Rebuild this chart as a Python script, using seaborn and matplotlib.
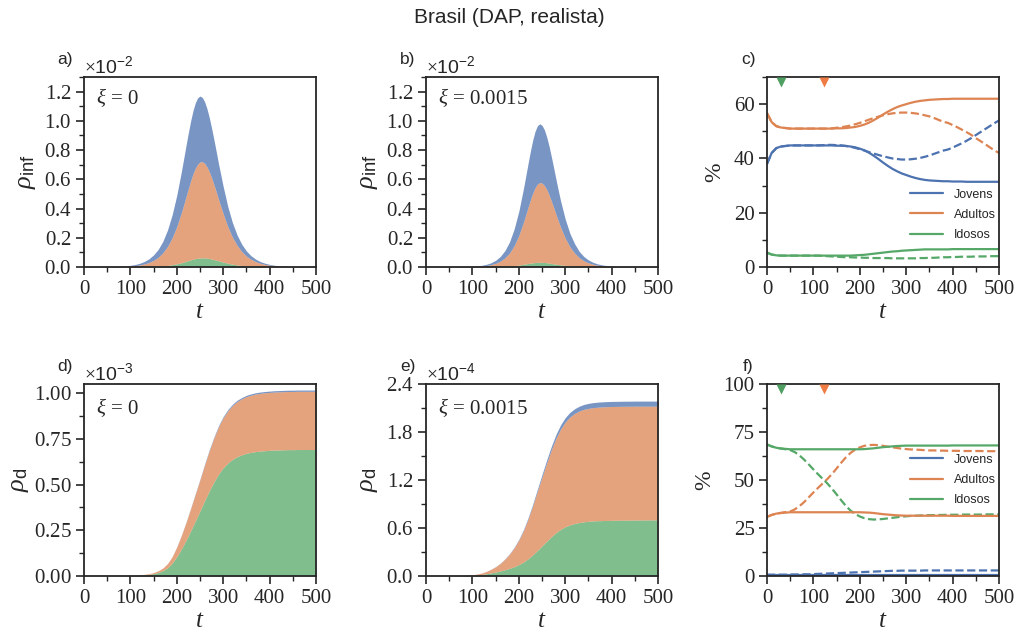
import matplotlib
matplotlib.use("Agg")
import matplotlib.pyplot as plt
import matplotlib.transforms as mtransforms
from matplotlib.ticker import MultipleLocator, ScalarFormatter
import seaborn as sns

# ---------------------------------------------------------------- data
t = list(range(0, 501, 10))
# denser sampling around the epidemic peak for the infected panels
t_inf = sorted(set(t) | set(range(215, 290, 10)))
groups = ["Jovens", "Adultos", "Idosos"]

# infected density per age group (units of 1e-2), xi = 0
inf0_jovens = [.0001, .0001, .0002, .0004, .0005, .0007, .0010, .0016, .0023, .0035,
               .0051, .0076, .0114, .0170, .0250, .0372, .0542, .0785, .1124, .1574,
               .2141, .2812, .3165, .3506, .3827, .4105, .4326, .4474, .4540, .4505,
               .4397, .4219, .3984, .3703, .3400, .3078, .2757, .2435,
               .1868, .1375, .0994, .0710, .0501, .0350, .0244, .0170, .0117, .0082,
               .0056, .0038, .0028, .0019, .0012, .0009, .0007, .0004, .0002, .0002, .0002]
inf0_adultos = [.0001, .0002, .0003, .0004, .0006, .0008, .0012, .0018, .0027, .0039,
                .0059, .0087, .0130, .0194, .0286, .0423, .0617, .0901, .1300, .1842,
                .2553, .3434, .3923, .4432, .4931, .5415, .5848, .6193, .6438, .6575,
                .6577, .6469, .6249, .5944, .5563, .5136, .4677, .4201,
                .3306, .2499, .1845, .1340, .0958, .0678, .0476, .0334, .0229, .0161,
                .0112, .0074, .0056, .0037, .0025, .0019, .0012, .0008, .0006, .0004, .0002]
inf0_idosos = [.0000, .0000, .0000, .0000, .0000, .0001, .0001, .0001, .0002, .0003,
               .0005, .0007, .0011, .0016, .0024, .0035, .0051, .0074, .0106, .0154,
               .0216, .0294, .0342, .0392, .0442, .0490, .0536, .0573, .0602, .0620,
               .0626, .0622, .0607, .0583, .0547, .0506, .0466, .0424,
               .0336, .0256, .0191, .0140, .0101, .0072, .0050, .0036, .0024, .0017,
               .0012, .0008, .0006, .0004, .0003, .0002, .0001, .0001, .0001, .0000, .0000]

# infected density per age group (units of 1e-2), xi = 0.0015
inf1_jovens = [.0000, .0000, .0000, .0001, .0001, .0002, .0003, .0005, .0008, .0013,
               .0021, .0033, .0052, .0084, .0131, .0207, .0324, .0502, .0764, .1150,
               .1658, .2308, .2658, .3007, .3343, .3637, .3860, .3994, .4023, .3953,
               .3812, .3595, .3337, .3035, .2723, .2400, .2093, .1803,
               .1304, .0920, .0643, .0433, .0294, .0198, .0134, .0089, .0060, .0041,
               .0028, .0018, .0013, .0008, .0006, .0004, .0003, .0002, .0001, .0001, .0001]
inf1_adultos = [.0001, .0001, .0001, .0001, .0002, .0003, .0004, .0006, .0009, .0015,
                .0023, .0037, .0059, .0094, .0149, .0236, .0373, .0583, .0899, .1378,
                .2028, .2889, .3370, .3861, .4341, .4776, .5123, .5357, .5454, .5417,
                .5268, .5011, .4674, .4273, .3850, .3408, .2979, .2572,
                .1861, .1306, .0906, .0602, .0402, .0266, .0175, .0114, .0075, .0049,
                .0032, .0021, .0013, .0009, .0006, .0004, .0002, .0001, .0001, .0000, .0000]
inf1_idosos = [.0000, .0000, .0000, .0000, .0000, .0000, .0000, .0001, .0001, .0001,
               .0002, .0003, .0005, .0007, .0011, .0018, .0027, .0041, .0062, .0092,
               .0134, .0183, .0212, .0242, .0266, .0287, .0307, .0319, .0323, .0320,
               .0310, .0294, .0269, .0242, .0217, .0192, .0168, .0145,
               .0105, .0074, .0051, .0035, .0024, .0016, .0011, .0007, .0005, .0003,
               .0002, .0002, .0001, .0001, .0000, .0000, .0000, .0000, .0000, .0000, .0000]

# cumulative deaths per age group (units of 1e-3), xi = 0
dead0_jovens = [0, 0, 0, 0, 0, 0, 0, 0, 0, .0000,
                .0000, .0000, .0000, .0001, .0001, .0001, .0002, .0003, .0005, .0007,
                .0011, .0016, .0021, .0026, .0032, .0037, .0043, .0048, .0053, .0058,
                .0061, .0064, .0066, .0067, .0068, .0069, .0070, .0070, .0070, .0071,
                .0071, .0071, .0071, .0071, .0071, .0071, .0071, .0071, .0071, .0071, .0071]
dead0_adultos = [0, 0, 0, 0, 0, 0, 0, 0, 0, .0003,
                 .0007, .0013, .0020, .0030, .0043, .0063, .0096, .0146, .0226, .0352,
                 .0531, .0741, .0974, .1220, .1466, .1707, .1958, .2194, .2402, .2589,
                 .2738, .2857, .2948, .3018, .3065, .3102, .3127, .3146, .3159, .3168,
                 .3164, .3171, .3174, .3177, .3180, .3180, .3183, .3183, .3183, .3183, .3183]
dead0_idosos = [0, 0, 0, 0, 0, 0, 0, 0, 0, .0007,
                .0013, .0026, .0040, .0059, .0086, .0125, .0191, .0290, .0449, .0700,
                .1056, .1481, .1956, .2474, .3013, .3556, .4119, .4658, .5145, .5573,
                .5921, .6179, .6376, .6525, .6627, .6709, .6763, .6804, .6831, .6851,
                .6875, .6888, .6895, .6902, .6909, .6909, .6916, .6916, .6916, .6916, .6916]

# cumulative deaths per age group (units of 1e-4), xi = 0.0015
dead1_jovens = [0, 0, 0, 0, 0, 0, .0000, .0000, .0000, .0001,
                .0002, .0003, .0005, .0008, .0012, .0018, .0026, .0037, .0050, .0068,
                .0092, .0122, .0161, .0207, .0260, .0318, .0377, .0437, .0478, .0529,
                .0554, .0573, .0585, .0594, .0610, .0626, .0628, .0630, .0631, .0632,
                .0633, .0633, .0633, .0634, .0634, .0634, .0634, .0634, .0634, .0634, .0634]
dead1_adultos = [0, 0, 0, 0, 0, 0, .0004, .0007, .0020, .0037,
                 .0069, .0114, .0183, .0292, .0451, .0660, .0944, .1328, .1795, .2369,
                 .3082, .3932, .4978, .6147, .7389, .8610, .9773, 1.0854, 1.1806, 1.2531,
                 1.3088, 1.3486, 1.3752, 1.3942, 1.4055, 1.4113, 1.4162, 1.4190, 1.4210, 1.4223,
                 1.4226, 1.4229, 1.4231, 1.4233, 1.4228, 1.4231, 1.4226, 1.4222, 1.4218, 1.4213, 1.4209]
dead1_idosos = [0, 0, 0, 0, 0, 0, .0006, .0013, .0030, .0052,
                .0089, .0133, .0192, .0280, .0387, .0502, .0630, .0785, .0955, .1163,
                .1426, .1746, .2161, .2646, .3201, .3772, .4350, .4909, .5416, .5840,
                .6158, .6391, .6563, .6684, .6775, .6841, .6880, .6910, .6929, .6945,
                .6961, .6968, .6976, .6983, .6988, .6995, .7000, .7004, .7008, .7013, .7017]

# share of infected per age group (%), solid: xi = 0, dashed: xi = 0.0015
pinf0_jovens = [38.0, 42.0, 43.8, 44.4, 44.6, 44.8, 44.8, 44.8, 44.8, 44.8,
                44.8, 44.8, 44.8, 44.8, 44.8, 44.7, 44.7, 44.6, 44.4, 44.1,
                43.6, 43.0, 42.1, 41.0, 39.8, 38.5, 37.3, 36.2, 35.3, 34.5,
                33.9, 33.3, 32.8, 32.4, 32.1, 31.9, 31.8, 31.7, 31.6, 31.6,
                31.5, 31.5, 31.5, 31.4, 31.4, 31.4, 31.4, 31.4, 31.4, 31.4, 31.4]
pinf0_adultos = [56.7, 53.4, 51.9, 51.4, 51.2, 51.0, 51.0, 51.0, 51.0, 51.0,
                 51.0, 51.0, 51.0, 51.0, 51.0, 51.1, 51.1, 51.2, 51.4, 51.6,
                 52.0, 52.5, 53.2, 54.1, 55.1, 56.2, 57.2, 58.1, 58.9, 59.5,
                 60.0, 60.5, 60.9, 61.2, 61.4, 61.6, 61.7, 61.8, 61.9, 61.9,
                 62.0, 62.0, 62.0, 62.0, 62.0, 62.0, 62.0, 62.0, 62.0, 62.0, 62.0]
pinf0_idosos = [5.3, 4.6, 4.3, 4.2, 4.2, 4.2, 4.2, 4.2, 4.2, 4.2,
                4.2, 4.2, 4.2, 4.2, 4.2, 4.2, 4.2, 4.2, 4.2, 4.3,
                4.4, 4.5, 4.7, 4.9, 5.1, 5.3, 5.5, 5.7, 5.8, 6.0,
                6.1, 6.2, 6.3, 6.4, 6.5, 6.5, 6.5, 6.5, 6.5, 6.5,
                6.6, 6.6, 6.6, 6.6, 6.6, 6.6, 6.6, 6.6, 6.6, 6.6, 6.6]
pinf1_jovens = [38.0, 42.0, 43.8, 44.4, 44.6, 44.8, 44.8, 44.8, 44.8, 44.8,
                44.8, 44.8, 44.9, 45.0, 45.0, 44.9, 44.8, 44.6, 44.3, 43.9,
                43.4, 42.9, 42.3, 41.8, 41.3, 40.8, 40.4, 40.0, 39.8, 39.6,
                39.6, 39.7, 39.9, 40.2, 40.6, 41.1, 41.7, 42.3, 42.9, 43.3,
                44.0, 44.8, 45.6, 46.5, 47.5, 48.6, 49.7, 50.8, 51.9, 53.0, 54.0]
pinf1_adultos = [56.7, 53.4, 51.9, 51.4, 51.2, 51.0, 51.0, 51.0, 51.0, 51.0,
                 51.0, 51.0, 51.0, 51.0, 51.1, 51.3, 51.5, 51.8, 52.1, 52.6,
                 53.1, 53.7, 54.3, 54.9, 55.4, 55.9, 56.3, 56.6, 56.8, 56.9,
                 56.9, 56.8, 56.6, 56.3, 55.9, 55.5, 54.9, 54.2, 53.5, 53.1,
                 52.3, 51.5, 50.6, 49.7, 48.7, 47.5, 46.4, 45.3, 44.1, 43.0, 42.0]
pinf1_idosos = [5.3, 4.6, 4.3, 4.2, 4.2, 4.2, 4.2, 4.2, 4.2, 4.2,
                4.2, 4.2, 4.1, 4.0, 3.9, 3.8, 3.7, 3.6, 3.6, 3.5,
                3.5, 3.4, 3.4, 3.3, 3.3, 3.3, 3.3, 3.2, 3.2, 3.2,
                3.2, 3.2, 3.2, 3.3, 3.3, 3.4, 3.4, 3.5, 3.6, 3.6,
                3.7, 3.7, 3.8, 3.8, 3.8, 3.9, 3.9, 3.9, 4.0, 4.0, 4.0]

# share of deaths per age group (%), solid: xi = 0, dashed: xi = 0.0015
pdead0_jovens = [0.7] * 51
pdead0_adultos = [30.8, 31.8, 32.5, 32.8, 33.0, 33.2, 33.2, 33.2, 33.2, 33.2,
                  33.2, 33.2, 33.2, 33.2, 33.2, 33.2, 33.2, 33.2, 33.2, 33.2,
                  33.2, 33.1, 33.0, 32.8, 32.5, 32.2, 32.0, 31.8, 31.6, 31.5,
                  31.4, 31.4, 31.4, 31.4, 31.4, 31.4, 31.4, 31.4, 31.4, 31.4,
                  31.3, 31.3, 31.3, 31.3, 31.3, 31.3, 31.3, 31.3, 31.3, 31.3, 31.3]
pdead0_idosos = [68.5, 67.5, 66.8, 66.4, 66.2, 66.0, 66.0, 66.0, 66.0, 66.0,
                 66.0, 66.0, 66.0, 66.0, 66.0, 66.0, 66.0, 66.0, 66.0, 66.0,
                 66.0, 66.1, 66.3, 66.5, 66.8, 67.1, 67.3, 67.5, 67.7, 67.8,
                 67.9, 67.9, 67.9, 67.9, 67.9, 67.9, 67.9, 67.9, 67.9, 67.9,
                 68.0, 68.0, 68.0, 68.0, 68.0, 68.0, 68.0, 68.0, 68.0, 68.0, 68.0]
pdead1_jovens = [0.7, 0.7, 0.7, 0.7, 0.7, 0.8, 0.8, 0.8, 0.9, 0.9,
                 1.0, 1.1, 1.2, 1.3, 1.4, 1.5, 1.6, 1.7, 1.8, 1.9,
                 2.0, 2.1, 2.2, 2.3, 2.4, 2.5, 2.6, 2.7, 2.7, 2.8,
                 2.8, 2.8, 2.8, 2.8, 2.9, 2.9, 2.9, 2.9, 2.9, 2.9,
                 2.9, 2.9, 2.9, 2.9, 2.9, 2.9, 2.9, 2.9, 2.9, 2.9, 2.9]
pdead1_adultos = [30.8, 31.8, 32.5, 32.9, 33.3, 33.6, 34.7, 36.4, 38.5, 41.0,
                  43.5, 45.9, 48.2, 50.5, 53.1, 56.0, 59.0, 61.8, 64.1, 65.8,
                  67.0, 67.8, 68.2, 68.3, 68.1, 67.8, 67.4, 67.0, 66.7, 66.3,
                  66.1, 65.9, 65.8, 65.7, 65.5, 65.4, 65.4, 65.3, 65.3, 65.2,
                  65.2, 65.2, 65.1, 65.1, 65.1, 65.1, 65.1, 65.0, 65.0, 65.0, 65.0]
pdead1_idosos = [68.5, 67.5, 66.8, 66.4, 66.0, 65.6, 64.5, 62.8, 60.6, 58.1,
                 55.5, 53.0, 50.6, 48.2, 45.5, 42.5, 39.4, 36.5, 34.1, 32.3,
                 31.0, 30.1, 29.6, 29.4, 29.5, 29.7, 30.0, 30.3, 30.6, 30.9,
                 31.1, 31.3, 31.4, 31.5, 31.6, 31.7, 31.7, 31.8, 31.8, 31.9,
                 31.9, 31.9, 32.0, 32.0, 32.0, 32.0, 32.0, 32.1, 32.1, 32.1, 32.1]

# vaccination start for Idosos and Adultos
vacc_start = [30, 122]

# ---------------------------------------------------------------- style
sns.set_theme(style="ticks", palette="deep")
plt.rcParams.update({
    "font.family": ["Liberation Serif", "DejaVu Serif"],
    "mathtext.fontset": "custom",
    "mathtext.rm": "Liberation Serif",
    "mathtext.it": "Liberation Serif:italic",
    "mathtext.sf": "Liberation Sans",
    "axes.edgecolor": "#262626",
    "axes.linewidth": 1.3,
    "xtick.major.width": 1.2,
    "ytick.major.width": 1.2,
    "xtick.minor.width": 1.0,
    "ytick.minor.width": 1.0,
    "xtick.major.size": 5.5,
    "ytick.major.size": 5.5,
    "xtick.minor.size": 3.5,
    "ytick.minor.size": 3.5,
    "xtick.color": "#262626",
    "ytick.color": "#262626",
    "text.color": "#262626",
})

pal = sns.color_palette("deep")
c_jov, c_adu, c_ido = pal[0], pal[1], pal[2]
tri_colors = ["#4f9f62", "#f07c45"]
SANS = "Liberation Sans"
TICK_FS = 15

fig = plt.figure(figsize=(10.19, 6.35), dpi=100)
lefts = [0.0824, 0.4181, 0.7527]
width = 0.2277
rows = [(0.5795, 0.2992), (0.0929, 0.3024)]
axes = [[fig.add_axes([l, b, width, h]) for l in lefts] for (b, h) in rows]


def style_axis(ax, ymax, ymajor, yminor, sci=None):
    ax.set_xlim(0, 500)
    ax.set_ylim(0, ymax)
    ax.xaxis.set_major_locator(MultipleLocator(100))
    ax.xaxis.set_minor_locator(MultipleLocator(50))
    ax.yaxis.set_major_locator(MultipleLocator(ymajor))
    ax.yaxis.set_minor_locator(MultipleLocator(yminor))
    ax.tick_params(which="both", direction="out", top=False, right=False,
                   labelsize=TICK_FS)
    for s in ax.spines.values():
        s.set_visible(True)
    if sci is not None:
        fmt = ScalarFormatter(useMathText=True)
        fmt.set_powerlimits((0, 0))
        ax.yaxis.set_major_formatter(fmt)
        off = ax.yaxis.get_offset_text()
        off.set_family(SANS)
        off.set_fontsize(14)
    ax.set_xlabel(r"$t$", fontsize=18, labelpad=2)


def stack(ax, x, jov, adu, ido, scale):
    ax.stackplot(x,
                 [v * scale for v in ido],
                 [v * scale for v in adu],
                 [v * scale for v in jov],
                 colors=[c_ido, c_adu, c_jov], alpha=0.75, linewidth=0)


def shares(ax, solid, dashed):
    for vals, col in zip(dashed, [c_jov, c_adu, c_ido]):
        sns.lineplot(x=t, y=vals, ax=ax, color=col, lw=1.6, ls="--",
                     estimator=None, errorbar=None)
    handles = []
    for vals, col in zip(solid, [c_jov, c_adu, c_ido]):
        sns.lineplot(x=t, y=vals, ax=ax, color=col, lw=1.6,
                     estimator=None, errorbar=None)
        handles.append(ax.get_lines()[-1])
    trans = mtransforms.blended_transform_factory(ax.transData, ax.transAxes)
    for x0, col in zip(vacc_start, tri_colors):
        ax.plot([x0], [0.976], marker="v", ms=7, color=col, mec="none",
                transform=trans, clip_on=False, zorder=5)
    return handles


def share_legend(ax, handles, ycenter):
    ax.legend(handles, groups, loc="center right",
              bbox_to_anchor=(1.035, ycenter), frameon=False,
              prop={"family": SANS, "size": 9},
              handlelength=2.6, handletextpad=0.9, labelspacing=0.65)


# a) infected, xi = 0
ax = axes[0][0]
stack(ax, t_inf, inf0_jovens, inf0_adultos, inf0_idosos, 1e-2)
style_axis(ax, 1.3e-2, 0.2e-2, 0.1e-2, sci=True)
ax.set_ylabel(r"$\rho_{\mathsf{inf}}$", fontsize=19, labelpad=4)
ax.text(0.05, 0.89, r"$\xi$ = 0", transform=ax.transAxes, fontsize=15,
        ha="left", va="center")

# b) infected, xi = 0.0015
ax = axes[0][1]
stack(ax, t_inf, inf1_jovens, inf1_adultos, inf1_idosos, 1e-2)
style_axis(ax, 1.3e-2, 0.2e-2, 0.1e-2, sci=True)
ax.set_ylabel(r"$\rho_{\mathsf{inf}}$", fontsize=19, labelpad=4)
ax.text(0.05, 0.89, r"$\xi$ = 0.0015", transform=ax.transAxes, fontsize=15,
        ha="left", va="center")

# c) share of infected
ax = axes[0][2]
h = shares(ax, [pinf0_jovens, pinf0_adultos, pinf0_idosos],
           [pinf1_jovens, pinf1_adultos, pinf1_idosos])
style_axis(ax, 70, 20, 10)
ax.set_ylabel("%", fontsize=17, labelpad=6)
share_legend(ax, h, 0.275)

# d) deaths, xi = 0
ax = axes[1][0]
stack(ax, t, dead0_jovens, dead0_adultos, dead0_idosos, 1e-3)
style_axis(ax, 1.05e-3, 0.25e-3, 0.125e-3, sci=True)
ax.set_ylabel(r"$\rho_{\mathsf{d}}$", fontsize=19, labelpad=2)
ax.text(0.05, 0.875, r"$\xi$ = 0", transform=ax.transAxes, fontsize=15,
        ha="left", va="center")

# e) deaths, xi = 0.0015
ax = axes[1][1]
stack(ax, t, dead1_jovens, dead1_adultos, dead1_idosos, 1e-4)
style_axis(ax, 2.4e-4, 0.6e-4, 0.3e-4, sci=True)
ax.set_ylabel(r"$\rho_{\mathsf{d}}$", fontsize=19, labelpad=4)
ax.text(0.05, 0.875, r"$\xi$ = 0.0015", transform=ax.transAxes, fontsize=15,
        ha="left", va="center")

# f) share of deaths
ax = axes[1][2]
h = shares(ax, [pdead0_jovens, pdead0_adultos, pdead0_idosos],
           [pdead1_jovens, pdead1_adultos, pdead1_idosos])
style_axis(ax, 100, 25, 12.5)
ax.set_ylabel("%", fontsize=17, labelpad=6)
share_legend(ax, h, 0.50)

# panel letters
for row, letters in zip(axes, [["a)", "b)", "c)"], ["d)", "e)", "f)"]]):
    for ax, letter in zip(row, letters):
        ax.text(-0.08, 1.09, letter, transform=ax.transAxes, family=SANS,
                fontsize=12.5, ha="center", va="center")

fig.text(0.5, 0.972, "Brasil (DAP, realista)", family=SANS, fontsize=15,
         ha="center", va="center")

fig.savefig("out.png", dpi=100)
